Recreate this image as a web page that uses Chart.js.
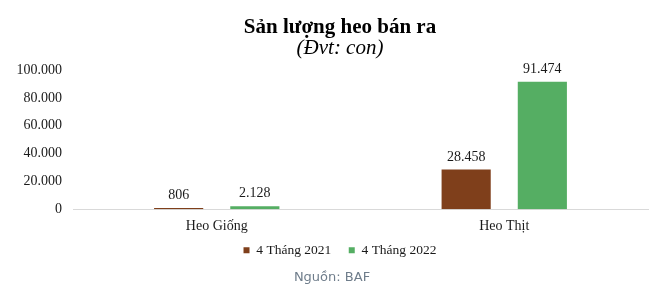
<!DOCTYPE html>
<html>
<head>
<meta charset="utf-8">
<script src="https://cdn.jsdelivr.net/npm/chart.js@4.4.1/dist/chart.umd.min.js"></script>
<style>
  html, body { margin: 0; padding: 0; background: #fff; }
  #wrap { position: relative; width: 658px; height: 299px; }
</style>
</head>
<body>
<div id="wrap"><canvas id="chart" width="658" height="299"></canvas></div>
<script>
const categories = ['Heo Giống', 'Heo Thịt'];
const seriesNames = ['4 Tháng 2021', '4 Tháng 2022'];
const values2021 = [806, 28458];
const values2022 = [2128, 91474];
const yTicks = [0, 20000, 40000, 60000, 80000, 100000];

const serif = "'Liberation Serif', 'Times New Roman', serif";

const fmt = v => String(v).replace(/\B(?=(\d{3})+(?!\d))/g, '.');

// labels above each bar
const barLabels = {
    id: 'barLabels',
    afterDatasetsDraw(chart) {
        const ctx = chart.ctx;
        ctx.save();
        ctx.font = `14px ${serif}`;
        ctx.fillStyle = '#1a1a1a';
        ctx.textAlign = 'center';
        ctx.textBaseline = 'alphabetic';
        chart.data.datasets.forEach((ds, i) => {
            chart.getDatasetMeta(i).data.forEach((bar, j) => {
                ctx.fillText(fmt(ds.data[j]), bar.x, bar.y - 9);
            });
        });
        ctx.restore();
    }
};

// title and legend sit a bit right of the canvas centre in the original
const nudgeBoxes = {
    id: 'nudgeBoxes',
    afterLayout(chart) {
        chart.boxes.forEach(box => {
            if (box instanceof Chart.Scale) return;
            box.left += 16;
            box.right += 16;
            if (box === chart.legend) {
                box.top -= 4.5;
                box.bottom -= 4.5;
            }
        });
    }
};

// source note at the bottom
const sourceNote = {
    id: 'sourceNote',
    afterDraw(chart) {
        const ctx = chart.ctx;
        ctx.save();
        ctx.font = "13px 'DejaVu Sans', sans-serif";
        ctx.fillStyle = '#6f7d8b';
        ctx.textAlign = 'center';
        ctx.textBaseline = 'middle';
        ctx.fillText('Nguồn: BAF', 332, 278);
        ctx.restore();
    }
};

new Chart(document.getElementById('chart'), {
    type: 'bar',
    data: {
        labels: categories,
        datasets: [{
            label: seriesNames[0],
            data: values2021,
            backgroundColor: '#7f3f1b',
            categoryPercentage: 0.53,
            barPercentage: 0.645
        }, {
            label: seriesNames[1],
            data: values2022,
            backgroundColor: '#55ae63',
            categoryPercentage: 0.53,
            barPercentage: 0.645
        }]
    },
    options: {
        responsive: false,
        animation: false,
        layout: { padding: { left: 0, right: 10, top: 0, bottom: 27.5 } },
        plugins: {
            title: {
                display: true,
                text: 'Sản lượng heo bán ra',
                color: '#000',
                font: { family: serif, size: 21, weight: 'bold', lineHeight: 1 },
                padding: { top: 17, bottom: 0 }
            },
            subtitle: {
                display: true,
                text: '(Đvt: con)',
                color: '#000',
                font: { family: serif, size: 21, style: 'italic', lineHeight: 1 },
                padding: { top: 0, bottom: 11 }
            },
            legend: {
                position: 'bottom',
                labels: {
                    color: '#1a1a1a',
                    font: { family: serif, size: 13.5 },
                    boxWidth: 6,
                    boxHeight: 6,
                    padding: 4,
                    generateLabels: chart => {
                        const items = Chart.defaults.plugins.legend.labels.generateLabels(chart);
                        // wider gap between the two entries
                        items[0].text += '\u2003';
                        return items;
                    }
                }
            },
            tooltip: { enabled: false }
        },
        scales: {
            x: {
                grid: { display: false, drawTicks: false },
                border: { display: true, color: '#d9d9d9', width: 1 },
                ticks: { color: '#1a1a1a', font: { family: serif, size: 14 }, padding: 9 }
            },
            y: {
                min: 0,
                max: 100000,
                afterBuildTicks: scale => { scale.ticks = yTicks.map(v => ({ value: v })); },
                afterFit: scale => { scale.width = 73; },
                grid: { display: false, drawTicks: false },
                border: { display: false },
                ticks: {
                    color: '#1a1a1a',
                    font: { family: serif, size: 14 },
                    padding: 11,
                    callback: v => fmt(v)
                }
            }
        }
    },
    plugins: [barLabels, nudgeBoxes, sourceNote]
});
</script>
</body>
</html>
